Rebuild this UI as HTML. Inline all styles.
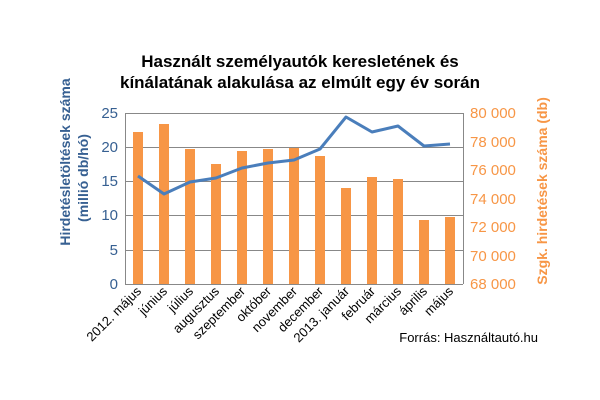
<!DOCTYPE html>
<html><head><meta charset="utf-8"><style>body{margin:0;background:#fff}svg{display:block}text{font-family:"Liberation Sans",sans-serif}</style></head>
<body>
<svg width="600" height="400" xmlns="http://www.w3.org/2000/svg">
<rect width="600" height="400" fill="#fff"/>
<text x="300" y="67" font-size="17" font-weight="bold" text-anchor="middle" fill="#000">Használt személyautók keresletének és</text>
<text x="300" y="88" font-size="17" font-weight="bold" text-anchor="middle" fill="#000">kínálatának alakulása az elmúlt egy év során</text>
<g stroke="#888" stroke-width="1">
<line x1="125" y1="113.5" x2="463" y2="113.5"/>
<line x1="125" y1="147.5" x2="463" y2="147.5"/>
<line x1="125" y1="181.5" x2="463" y2="181.5"/>
<line x1="125" y1="215.5" x2="463" y2="215.5"/>
<line x1="125" y1="250.5" x2="463" y2="250.5"/>
<line x1="125" y1="284.5" x2="463" y2="284.5"/>
<line x1="125.5" y1="113" x2="125.5" y2="284"/>
<line x1="463.5" y1="113" x2="463.5" y2="284"/>
</g>
<g fill="#F79646">
<rect x="133" y="132" width="10" height="152"/>
<rect x="159" y="124" width="10" height="160"/>
<rect x="185" y="149" width="10" height="135"/>
<rect x="211" y="164" width="10" height="120"/>
<rect x="237" y="151" width="10" height="133"/>
<rect x="263" y="149" width="10" height="135"/>
<rect x="289" y="148" width="10" height="136"/>
<rect x="315" y="156" width="10" height="128"/>
<rect x="341" y="188" width="10" height="96"/>
<rect x="367" y="177" width="10" height="107"/>
<rect x="393" y="179" width="10" height="105"/>
<rect x="419" y="220" width="10" height="64"/>
<rect x="445" y="217" width="10" height="67"/>
</g>
<polyline fill="none" stroke="#4A7EBB" stroke-width="3" stroke-linejoin="round" points="138,176 164,194 190,182 216,178 242,168 268,163 294,160 320,149 346,117 372,132 398,126 424,146 450,144"/>
<g font-size="15" fill="#376092" text-anchor="end">
<text x="118" y="118">25</text><text x="118" y="152">20</text><text x="118" y="186">15</text><text x="118" y="220">10</text><text x="118" y="255">5</text><text x="118" y="289">0</text>
</g>
<g font-size="15" fill="#F79646">
<text x="470" y="118">80 000</text><text x="470" y="147">78 000</text><text x="470" y="175">76 000</text><text x="470" y="204">74 000</text><text x="470" y="232">72 000</text><text x="470" y="261">70 000</text><text x="470" y="289">68 000</text>
</g>
<g font-size="13" fill="#000" text-anchor="end">
<text transform="translate(142,292) rotate(-45)">2012. május</text>
<text transform="translate(168,292) rotate(-45)">június</text>
<text transform="translate(194,292) rotate(-45)">július</text>
<text transform="translate(220,292) rotate(-45)">augusztus</text>
<text transform="translate(246,292) rotate(-45)">szeptember</text>
<text transform="translate(272,292) rotate(-45)">október</text>
<text transform="translate(298,292) rotate(-45)">november</text>
<text transform="translate(324,292) rotate(-45)">december</text>
<text transform="translate(350,292) rotate(-45)">2013. január</text>
<text transform="translate(376,292) rotate(-45)">február</text>
<text transform="translate(402,292) rotate(-45)">március</text>
<text transform="translate(428,292) rotate(-45)">április</text>
<text transform="translate(454,292) rotate(-45)">május</text>
</g>
<text x="538" y="342" font-size="13" fill="#000" text-anchor="end">Forrás: Használtautó.hu</text>
<g font-size="14" font-weight="bold" fill="#376092" text-anchor="middle">
<text transform="translate(70,162) rotate(-90)">Hirdetésletöltések  száma</text>
<text transform="translate(88,178) rotate(-90)">(millió db/hó)</text>
</g>
<text transform="translate(547,191) rotate(-90)" font-size="14" font-weight="bold" fill="#F79646" text-anchor="middle">Szgk. hirdetések  száma (db)</text>
</svg>
</body></html>
